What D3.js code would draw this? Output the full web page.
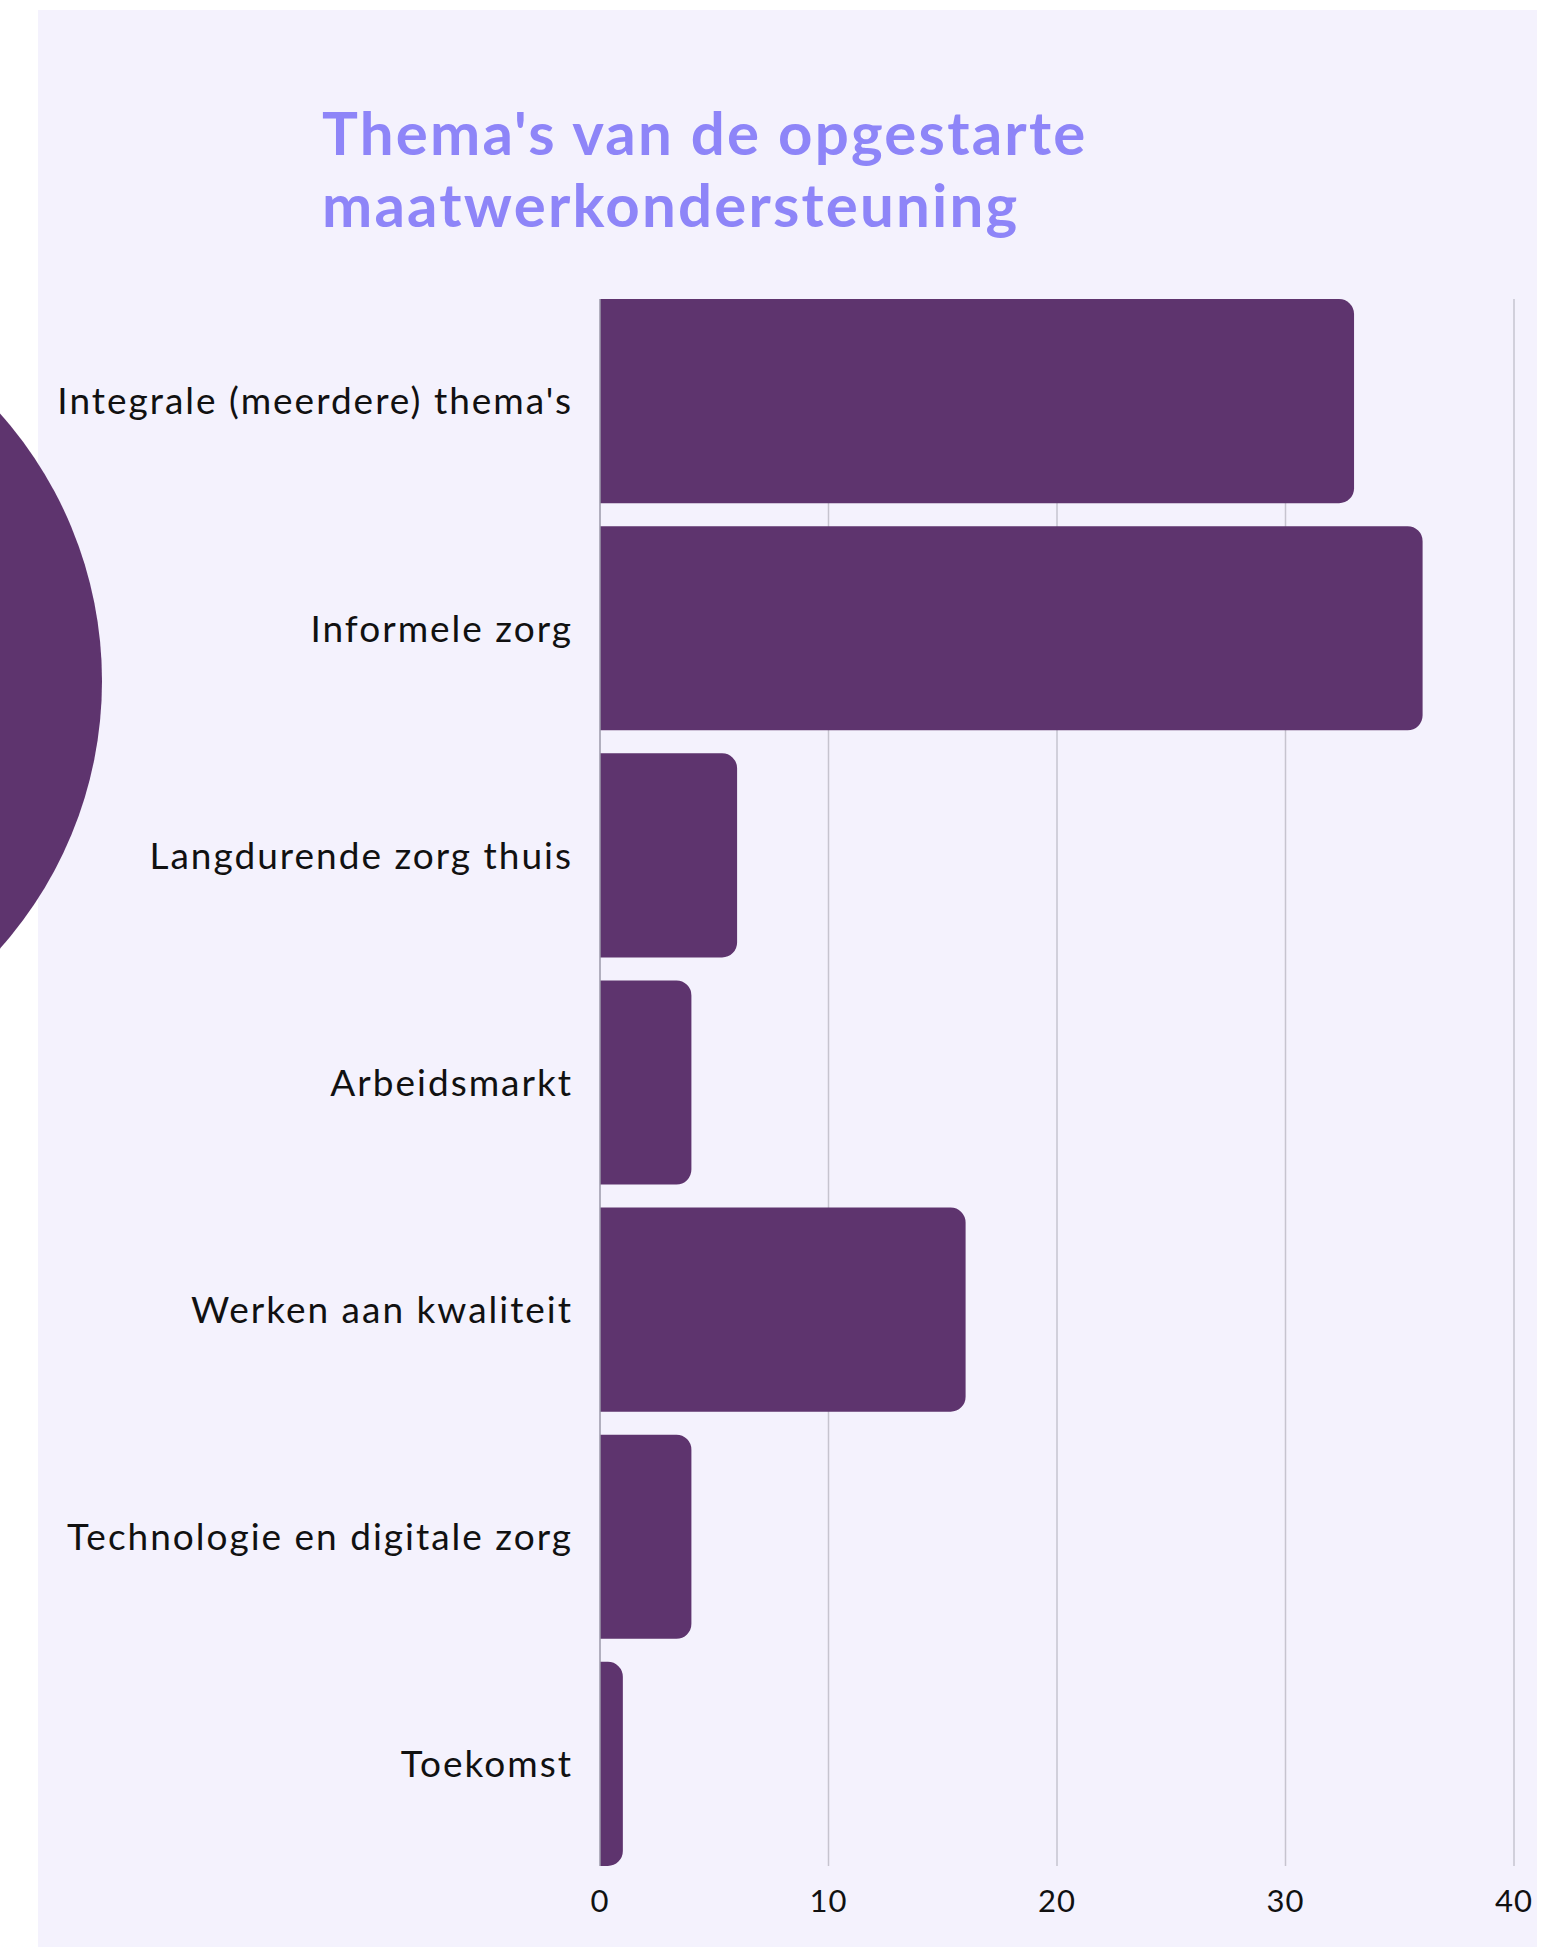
<!DOCTYPE html>
<html>
<head>
<meta charset="utf-8">
<script src="https://cdn.jsdelivr.net/npm/d3@7"></script>
<style>
  html, body { margin: 0; padding: 0; background: #ffffff; }
  svg { display: block; }
</style>
</head>
<body>
<svg id="chart" width="1565" height="1947"></svg>
<script>
// data
let themes = ["Integrale (meerdere) thema's", "Informele zorg", "Langdurende zorg thuis",
  "Arbeidsmarkt", "Werken aan kwaliteit", "Technologie en digitale zorg", "Toekomst"];
let counts = [33, 36, 6, 4, 16, 4, 1];
let xTicks = [0, 10, 20, 30, 40];
let titleLines = ["Thema's van de opgestarte", "maatwerkondersteuning"];

let W = 1565, H = 1947;
let panel = {x: 38, y: 10, w: 1499, h: H - 10};

let minx = 600;
let maxx = 1514;
let miny = 299;
let maxy = 1866;

let svg = d3.select("#chart");

// panel background
svg.append("rect")
  .attr("x", panel.x).attr("y", panel.y)
  .attr("width", panel.w).attr("height", panel.h)
  .attr("fill", "#f4f2fd");

svg.append("clipPath").attr("id", "panelClip")
  .append("rect")
  .attr("x", panel.x).attr("y", panel.y)
  .attr("width", panel.w).attr("height", panel.h);

// decorative circle on the left
svg.append("circle")
  .attr("cx", -300).attr("cy", 681).attr("r", 402)
  .attr("fill", "#5e346e");

let g = svg.append("g").attr("clip-path", "url(#panelClip)");

let xScale = d3.scaleLinear().domain([0, 40]).range([minx, maxx]);
let yScale = d3.scaleBand().domain(themes).range([miny, maxy])
  .paddingInner(0.101).paddingOuter(0);

// title
g.append("text")
  .attr("x", 322)
  .attr("fill", "#8e85f8")
  .attr("font-family", "Lato, 'Open Sans', sans-serif")
  .attr("font-weight", 700)
  .attr("font-size", 60)
  .attr("letter-spacing", 2.2)
  .selectAll("tspan")
  .data(titleLines)
  .join("tspan")
  .attr("x", 322)
  .attr("y", (d, i) => 155 + i * 72)
  .text(d => d);

// grid lines
g.append("g")
  .selectAll("line")
  .data(xTicks.filter(t => t > 0))
  .join("line")
  .attr("x1", d => xScale(d)).attr("x2", d => xScale(d))
  .attr("y1", miny).attr("y2", maxy)
  .attr("stroke", "#c6c4cf")
  .attr("stroke-width", 1.5);

// rounded on the right side only
function barPath(x0, y0, w, h, r) {
  r = Math.min(r, w, h / 2);
  return `M${x0},${y0}` +
    `H${x0 + w - r}` +
    `A${r},${r} 0 0 1 ${x0 + w},${y0 + r}` +
    `V${y0 + h - r}` +
    `A${r},${r} 0 0 1 ${x0 + w - r},${y0 + h}` +
    `H${x0}Z`;
}

let rows = themes.map((t, i) => ({theme: t, value: counts[i]}));

g.append("g")
  .selectAll("path")
  .data(rows)
  .join("path")
  .attr("d", d => barPath(xScale(0), yScale(d.theme), xScale(d.value) - xScale(0), yScale.bandwidth(), 15))
  .attr("fill", "#5e346e");

// zero line
g.append("line")
  .attr("x1", xScale(0)).attr("x2", xScale(0))
  .attr("y1", miny).attr("y2", maxy)
  .attr("stroke", "#9b98a8")
  .attr("stroke-width", 1.5);

// category labels
g.append("g")
  .selectAll("text")
  .data(themes)
  .join("text")
  .attr("x", 573)
  .attr("y", d => yScale(d) + yScale.bandwidth() / 2)
  .attr("dy", "0.36em")
  .attr("text-anchor", "end")
  .attr("font-family", "Lato, 'Open Sans', sans-serif")
  .attr("font-size", 37)
  .attr("letter-spacing", 2)
  .attr("fill", "#111111")
  .text(d => d);

// x tick labels
g.append("g")
  .selectAll("text")
  .data(xTicks)
  .join("text")
  .attr("x", d => xScale(d))
  .attr("y", 1912)
  .attr("text-anchor", "middle")
  .attr("font-family", "Lato, 'Open Sans', sans-serif")
  .attr("font-size", 31)
  .attr("letter-spacing", 1)
  .attr("fill", "#111111")
  .text(d => d);
</script>
</body>
</html>
